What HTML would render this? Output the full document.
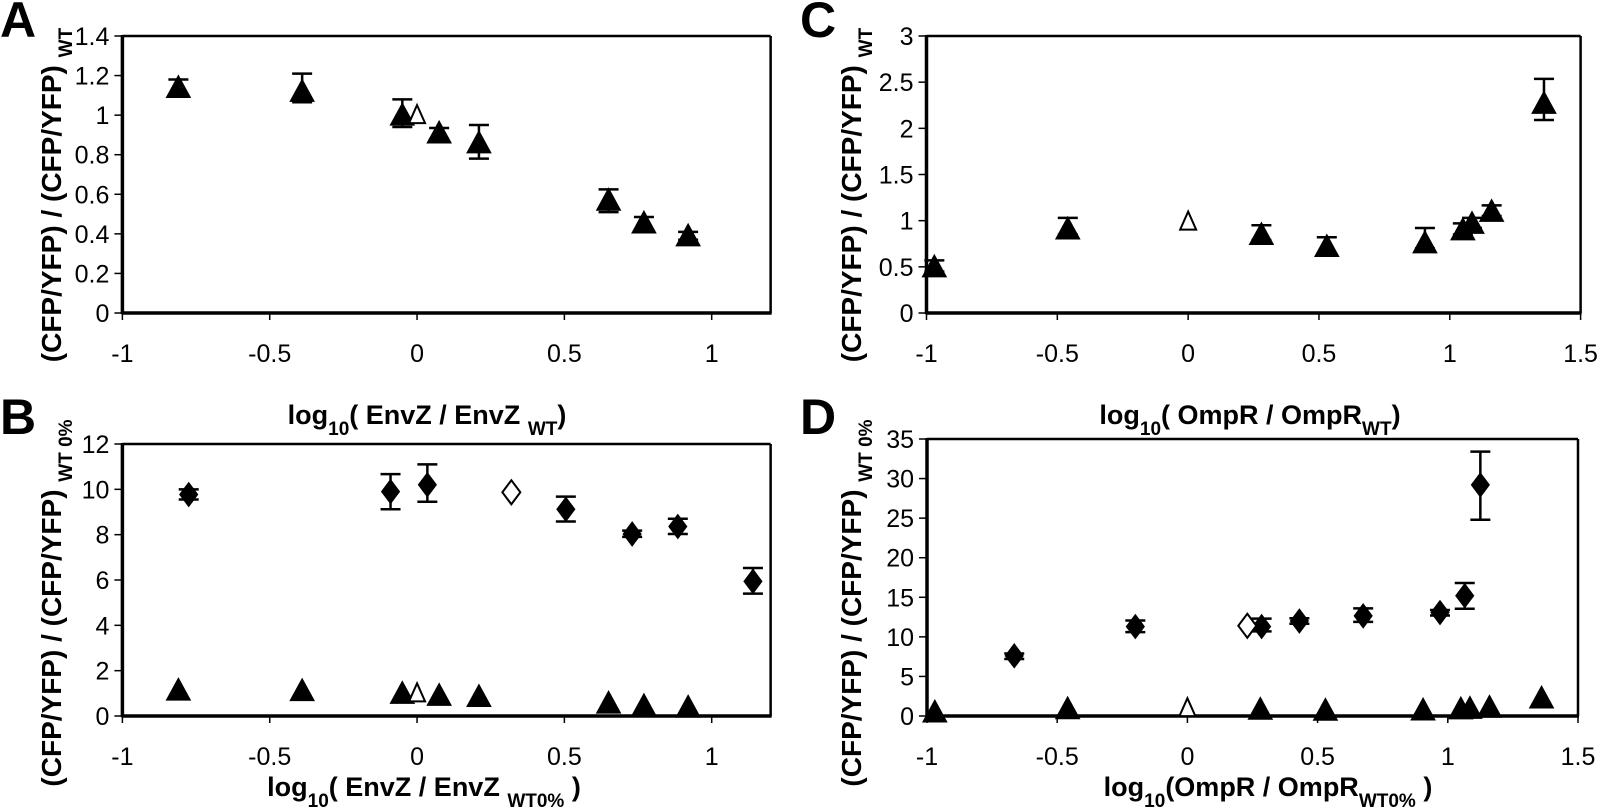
<!DOCTYPE html>
<html><head><meta charset="utf-8">
<style>
html,body{margin:0;padding:0;background:#fff;}
svg{display:block;}
text{font-family:"Liberation Sans",Arial,sans-serif;fill:#000;}
</style></head>
<body>
<svg id="fig" width="1600" height="812" viewBox="0 0 1600 812" xmlns="http://www.w3.org/2000/svg">
  <text x="0" y="37" font-size="50" font-weight="bold">A</text>
  <text x="0" y="434" font-size="50" font-weight="bold">B</text>
  <text x="800" y="37" font-size="50" font-weight="bold">C</text>
  <text x="800" y="434" font-size="50" font-weight="bold">D</text>
</svg>
<script>
// Panel A: triangles (EnvZ)
const aX = [-0.81, -0.39, -0.05, 0.075, 0.21, 0.65, 0.77, 0.92];
const aY = [1.14, 1.12, 1.0, 0.91, 0.86, 0.57, 0.455, 0.39];
const aHi = [1.18, 1.21, 1.08, 0.935, 0.95, 0.625, 0.485, 0.41];
const aLo = [1.105, 1.065, 0.94, 0.88, 0.78, 0.51, 0.42, 0.37];
const aOpenX = [0.0];
const aOpenY = [1.0];
const aXTicks = [-1, -0.5, 0, 0.5, 1];
const aXTickLabels = ["-1", "-0.5", "0", "0.5", "1"];
const aYTicks = [0, 0.2, 0.4, 0.6, 0.8, 1, 1.2, 1.4];
const aYTickLabels = ["0", "0.2", "0.4", "0.6", "0.8", "1", "1.2", "1.4"];

// Panel B: diamonds + triangles
const bDX = [-0.775, -0.09, 0.035, 0.505, 0.73, 0.885, 1.14];
const bDY = [9.77, 9.9, 10.2, 9.12, 8.03, 8.36, 5.94];
const bDHi = [10.0, 10.67, 11.1, 9.68, 8.18, 8.7, 6.53];
const bDLo = [9.55, 9.12, 9.45, 8.58, 7.9, 8.03, 5.4];
const bDOpenX = [0.32];
const bDOpenY = [9.87];
const bTX = [-0.81, -0.39, -0.05, 0.075, 0.21, 0.65, 0.77, 0.92];
const bTY = [1.14, 1.12, 1.0, 0.91, 0.86, 0.57, 0.455, 0.39];
const bTOpenX = [0.0];
const bTOpenY = [1.0];
const bXTicks = [-1, -0.5, 0, 0.5, 1];
const bXTickLabels = ["-1", "-0.5", "0", "0.5", "1"];
const bYTicks = [0, 2, 4, 6, 8, 10, 12];
const bYTickLabels = ["0", "2", "4", "6", "8", "10", "12"];

// Panel C: triangles (OmpR)
const cX = [-0.97, -0.46, 0.28, 0.53, 0.905, 1.05, 1.085, 1.16, 1.36];
const cY = [0.5, 0.91, 0.85, 0.72, 0.76, 0.9, 0.97, 1.1, 2.27];
const cHi = [0.57, 1.03, 0.95, 0.82, 0.92, 0.97, 1.03, 1.165, 2.535];
const cLo = [0.45, 0.85, 0.79, 0.64, 0.7, 0.85, 0.92, 1.05, 2.09];
const cOpenX = [0.0];
const cOpenY = [0.99];
const cXTicks = [-1, -0.5, 0, 0.5, 1, 1.5];
const cXTickLabels = ["-1", "-0.5", "0", "0.5", "1", "1.5"];
const cYTicks = [0, 0.5, 1, 1.5, 2, 2.5, 3];
const cYTickLabels = ["0", "0.5", "1", "1.5", "2", "2.5", "3"];

// Panel D: diamonds + triangles
const dDX = [-0.665, -0.2, 0.285, 0.43, 0.675, 0.97, 1.065, 1.125];
const dDY = [7.6, 11.3, 11.3, 12.0, 12.65, 13.07, 15.2, 29.2];
const dDHi = [7.9, 12.06, 12.3, 12.35, 13.6, 13.4, 16.8, 33.4];
const dDLo = [7.2, 10.6, 10.7, 11.65, 11.9, 12.7, 13.55, 24.8];
const dDOpenX = [0.23];
const dDOpenY = [11.4];
const dTX = [-0.97, -0.46, 0.28, 0.53, 0.905, 1.05, 1.085, 1.16, 1.36];
const dTY = [0.5, 0.91, 0.85, 0.72, 0.76, 0.9, 0.97, 1.1, 2.27];
const dTOpenX = [0.0];
const dTOpenY = [0.99];
const dXTicks = [-1, -0.5, 0, 0.5, 1, 1.5];
const dXTickLabels = ["-1", "-0.5", "0", "0.5", "1", "1.5"];
const dYTicks = [0, 5, 10, 15, 20, 25, 30, 35];
const dYTickLabels = ["0", "5", "10", "15", "20", "25", "30", "35"];

const NS = "http://www.w3.org/2000/svg";
const svg = document.getElementById("fig");

function mk(tag, attrs, parent) {
  const e = document.createElementNS(NS, tag);
  for (const k in attrs) e.setAttribute(k, attrs[k]);
  (parent || svg).appendChild(e);
  return e;
}

function makeScale(d0, d1, p0, p1) {
  return v => p0 + (v - d0) / (d1 - d0) * (p1 - p0);
}

function panel(cfg) {
  const g = mk("g", {});
  
  
  const sx = makeScale(cfg.xd[0], cfg.xd[1], cfg.xp[0], cfg.xp[1]);
  const sy = makeScale(cfg.yd[0], cfg.yd[1], cfg.yp[0], cfg.yp[1]);
  const L = sx(cfg.xmin), R = sx(cfg.xmax), T = sy(cfg.ymax), B = sy(cfg.ymin);
  const top = mk("line", {x1: L, y1: T, x2: R, y2: T, stroke: "#000", "stroke-width": 2.5}, g);
  
  
  const right = mk("line", {x1: R, y1: T, x2: R, y2: B, stroke: "#000", "stroke-width": 2.5}, g);
  
  
  const xa = mk("line", {x1: L - 1, y1: B, x2: R + 1, y2: B, stroke: "#000", "stroke-width": 3.5}, g);
  
  
  const ya = mk("line", {x1: L, y1: T - 1, x2: L, y2: B + 1, stroke: "#000", "stroke-width": 3.5}, g);
  
  
  cfg.xt.forEach((v, i) => {
    const x = sx(v);
    const t = mk("line", {x1: x, y1: B, x2: x, y2: B + 7, stroke: "#000", "stroke-width": 1.5}, g);
    
    
    const lab = mk("text", {x: x, y: B + 49, "font-size": 25, "text-anchor": "middle"}, g);
    lab.textContent = cfg.xl[i];
    
    
  });
  cfg.yt.forEach((v, i) => {
    const y = sy(v);
    const t = mk("line", {x1: L - 8, y1: y, x2: L, y2: y, stroke: "#000", "stroke-width": 1.5}, g);
    
    
    const lab = mk("text", {x: L - 13, y: y + 9, "font-size": 25, "text-anchor": "end"}, g);
    lab.textContent = cfg.yl[i];
    
    
  });
  (cfg.err || []).forEach(s => {
    s.x.forEach((v, i) => {
      const x = sx(v), y1 = sy(s.hi[i]), y2 = sy(s.lo[i]);
      const eg = mk("g", {stroke: "#000", "stroke-width": 2.5}, g);
      
      
      mk("line", {x1: x, y1: y1, x2: x, y2: y2}, eg);
      mk("line", {x1: x - 10, y1: y1, x2: x + 10, y2: y1}, eg);
      mk("line", {x1: x - 10, y1: y2, x2: x + 10, y2: y2}, eg);
    });
  });
  (cfg.marks || []).forEach(s => {
    s.x.forEach((v, i) => {
      const x = sx(v), y = sy(s.y[i]);
      let pts;
      if (s.shape === "tri") {
        pts = s.open ? `${x},${y - 10} ${x + 8},${y + 8} ${x - 8},${y + 8}`
                     : `${x},${y - 12} ${x + 12},${y + 10} ${x - 12},${y + 10}`;
      } else {
        pts = `${x},${y - 12} ${x + 9},${y} ${x},${y + 12} ${x - 9},${y}`;
      }
      const m = mk("polygon", {points: pts, fill: s.open ? "#fff" : "#000", stroke: "#000",
        "stroke-width": s.open ? 2 : 1}, g);
      
      
    });
  });
  return {sx, sy};
}

function rich(parts, attrs, name) {
  const t = mk("text", attrs);
  parts.forEach(p => {
    const ts = document.createElementNS(NS, "tspan");
    if (p.sub) { ts.setAttribute("baseline-shift", "sub"); ts.setAttribute("font-size", "19"); }
    ts.textContent = p.t;
    t.appendChild(ts);
  });
  
  
  return t;
}

const tb = {"font-size": 27, "font-weight": "bold", "text-anchor": "middle"};
const yb = {"font-size": 28, "font-weight": "bold", "text-anchor": "middle"};

panel({name: "panel-a-chart", xd: [-1, 1], xp: [122.4, 711.7], yd: [0, 1.4], yp: [313, 36],
  xmin: -1, xmax: 1.2, ymin: 0, ymax: 1.4,
  xt: aXTicks, xl: aXTickLabels, yt: aYTicks, yl: aYTickLabels,
  err: [{x: aX, hi: aHi, lo: aLo}],
  marks: [{x: aX, y: aY, shape: "tri", name: "triangle-point"},
          {x: aOpenX, y: aOpenY, shape: "tri", open: true, name: "wt-open-triangle"}]});

panel({name: "panel-b-chart", xd: [-1, 1], xp: [122.4, 711.7], yd: [0, 12], yp: [716, 444],
  xmin: -1, xmax: 1.2, ymin: 0, ymax: 12,
  xt: bXTicks, xl: bXTickLabels, yt: bYTicks, yl: bYTickLabels,
  err: [{x: bDX, hi: bDHi, lo: bDLo}],
  marks: [{x: bDX, y: bDY, shape: "dia", name: "diamond-point"},
          {x: bDOpenX, y: bDOpenY, shape: "dia", open: true, name: "wt-open-diamond"},
          {x: bTX, y: bTY, shape: "tri", name: "triangle-point"},
          {x: bTOpenX, y: bTOpenY, shape: "tri", open: true, name: "wt-open-triangle"}]});

panel({name: "panel-c-chart", xd: [-1, 1.5], xp: [926.5, 1580.6], yd: [0, 3], yp: [313, 36],
  xmin: -1, xmax: 1.5, ymin: 0, ymax: 3,
  xt: cXTicks, xl: cXTickLabels, yt: cYTicks, yl: cYTickLabels,
  err: [{x: cX, hi: cHi, lo: cLo}],
  marks: [{x: cX, y: cY, shape: "tri", name: "triangle-point"},
          {x: cOpenX, y: cOpenY, shape: "tri", open: true, name: "wt-open-triangle"}]});

panel({name: "panel-d-chart", xd: [-1, 1.5], xp: [927, 1578], yd: [0, 35], yp: [716, 439],
  xmin: -1, xmax: 1.5, ymin: 0, ymax: 35,
  xt: dXTicks, xl: dXTickLabels, yt: dYTicks, yl: dYTickLabels,
  err: [{x: dDX, hi: dDHi, lo: dDLo}],
  marks: [{x: dTX, y: dTY, shape: "tri", name: "triangle-point"},
          {x: dTOpenX, y: dTOpenY, shape: "tri", open: true, name: "wt-open-triangle"},
          {x: dDX, y: dDY, shape: "dia", name: "diamond-point"},
          {x: dDOpenX, y: dDOpenY, shape: "dia", open: true, name: "wt-open-diamond"}]});

rich([{t: "log"}, {t: "10", sub: true}, {t: "( EnvZ / EnvZ "}, {t: "WT", sub: true}, {t: ")"}],
  Object.assign({x: 427, y: 424}, tb), "x-axis-title-a");
rich([{t: "log"}, {t: "10", sub: true}, {t: "( EnvZ / EnvZ "}, {t: "WT0%", sub: true}, {t: " )"}],
  Object.assign({x: 424, y: 796}, tb), "x-axis-title-b");
rich([{t: "log"}, {t: "10", sub: true}, {t: "( OmpR / OmpR"}, {t: "WT", sub: true}, {t: ")"}],
  Object.assign({x: 1250, y: 424}, tb), "x-axis-title-c");
rich([{t: "log"}, {t: "10", sub: true}, {t: "(OmpR / OmpR"}, {t: "WT0%", sub: true}, {t: " )"}],
  Object.assign({x: 1268, y: 796}, tb), "x-axis-title-d");

rich([{t: "(CFP/YFP) / (CFP/YFP) "}, {t: "WT", sub: true}],
  Object.assign({x: 0, y: 0, transform: "translate(61,195) rotate(-90)"}, yb), "y-axis-title-a");
rich([{t: "(CFP/YFP) / (CFP/YFP) "}, {t: "WT 0%", sub: true}],
  Object.assign({x: 0, y: 0, transform: "translate(61,603) rotate(-90)"}, yb), "y-axis-title-b");
rich([{t: "(CFP/YFP) / (CFP/YFP) "}, {t: "WT", sub: true}],
  Object.assign({x: 0, y: 0, transform: "translate(861,195) rotate(-90)"}, yb), "y-axis-title-c");
rich([{t: "(CFP/YFP) / (CFP/YFP) "}, {t: "WT 0%", sub: true}],
  Object.assign({x: 0, y: 0, transform: "translate(861,603) rotate(-90)"}, yb), "y-axis-title-d");
</script>
</body></html>
